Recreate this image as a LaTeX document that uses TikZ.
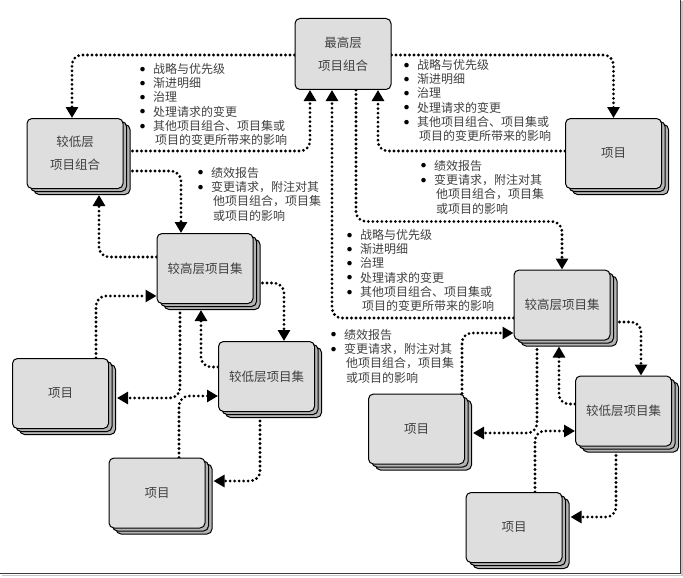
\documentclass[tikz,border=0pt]{standalone}
\usepackage{fontspec}
\setmainfont{Noto Sans CJK SC}
\usetikzlibrary{arrows.meta,calc,shadows,backgrounds}
\definecolor{boxGray}{HTML}{DEDEDE}
\definecolor{stackGray}{HTML}{B4B4B4}
\definecolor{textGray}{HTML}{404040}
\definecolor{frameGray}{HTML}{3C3C3C}
\newcommand{\itm}{\makebox[13pt][l]{\raisebox{2.3pt}{\fontsize{5}{0}\selectfont\textcolor{black}{●}}}}
\newcommand{\cnt}{\hspace*{15pt}}

\begin{document}
\begin{tikzpicture}[x=1pt,y=-1pt,
  card/.style={draw,line width=1pt,fill=boxGray,rounded corners=5pt,minimum width=96pt,minimum height=70pt,align=center,text=textGray,font=\fontsize{12.5}{23}\selectfont},
  stack/.style={card,double copy shadow={shadow xshift=3.5pt,shadow yshift=-3pt,fill=stackGray,draw=black,line width=1pt}},
  link/.style={line width=3.1pt,line cap=round,dash pattern=on 0pt off 4.5pt,rounded corners=10pt,-{Triangle[width=12pt,length=11pt]}},
  notes/.style={anchor=north west,inner sep=0pt,align=left,text=textGray,font=\fontsize{12}{14.3}\selectfont}]
\useasboundingbox (0,0) rectangle (683,578);

% boxes
\node[card,minimum height=71pt] (top) at (343,54) {最高层\\项目组合};
\node[stack] (lowport) at (75,153.5) {较低层\\项目组合};
\node[stack] (proj1) at (613.5,153.5) {项目};
\node[stack] (lhigh) at (205,268.5) {较高层项目集};
\node[stack] (llow) at (266.5,376.5) {较低层项目集};
\node[stack] (lproj1) at (60.5,393.5) {项目};
\node[stack] (lproj2) at (157,493) {项目};
\node[stack] (rhigh) at (562,305) {较高层项目集};
\node[stack] (rlow) at (623.5,411) {较低层项目集};
\node[stack] (rproj1) at (416.5,429) {项目};
\node[stack] (rproj2) at (514,527.5) {项目};

% notes
\node[notes] (down1) at (140,63) {\itm 战略与优先级\\\itm 渐进明细\\\itm 治理\\\itm 处理请求的变更\\\itm 其他项目组合、项目集或\\\cnt 项目的变更所带来的影响};
\node[notes] (down2) at (404,59) {\itm 战略与优先级\\\itm 渐进明细\\\itm 治理\\\itm 处理请求的变更\\\itm 其他项目组合、项目集或\\\cnt 项目的变更所带来的影响};
\node[notes] (up1) at (421,160) {\itm 绩效报告\\\itm 变更请求，附注对其\\\cnt 他项目组合，项目集\\\cnt 或项目的影响};
\node[notes] (up2) at (198,167) {\itm 绩效报告\\\itm 变更请求，附注对其\\\cnt 他项目组合，项目集\\\cnt 或项目的影响};
\node[notes] (down3) at (347,229) {\itm 战略与优先级\\\itm 渐进明细\\\itm 治理\\\itm 处理请求的变更\\\itm 其他项目组合、项目集或\\\cnt 项目的变更所带来的影响};
\node[notes] (up3) at (331,329) {\itm 绩效报告\\\itm 变更请求，附注对其\\\cnt 他项目组合，项目集\\\cnt 或项目的影响};

% links
\begin{scope}[on background layer]
\draw[link] ($(top.west)+(0,1)$) -| ($(lowport.north)+(-3,0)$);
\draw[link] ($(lowport.east)+(0,-2.5)$) -| ($(top.south)+(-33,0)$);
\draw[link] ($(top.east)+(0,1)$) -| (proj1.north);
\draw[link] ($(proj1.west)+(0,-2.5)$) -| ($(top.south)+(35,0)$);
\draw[link] ($(top.south)+(13,0)$) -- ++(0,131.5) -| (rhigh.north);
\draw[link] ($(rhigh.west)+(0,13)$) -| ($(top.south)+(-11,0)$);
\draw[link] ($(lowport.east)+(0,17.5)$) -| ($(lhigh.north)+(-24,0)$);
\draw[link] ($(lhigh.west)+(0,-11.5)$) -| ($(lowport.south)+(24,6)$);
\draw[link] ($(lhigh.east)+(0,14.5)$) -| ($(llow.north)+(17.5,0)$);
\draw[link] ($(llow.west)+(0,-9.5)$) -| ($(lhigh.south)+(-4,6)$);
\draw[link] ($(lproj1.north)+(35.5,0)$) |- ($(lhigh.west)+(0,27.5)$);
\draw[link] ($(lhigh.south)+(-25,0)$) |- ($(lproj1.east)+(8,4.5)$);
\draw[link] ($(lproj2.north)+(22,0)$) |- ($(llow.west)+(0,19.5)$);
\draw[link] ($(llow.south)+(-6.5,0)$) |- ($(lproj2.east)+(8,-12)$);
\draw[link] ($(rhigh.east)+(0,17)$) -| ($(rlow.north)+(17.5,0)$);
\draw[link] ($(rlow.west)+(0,-7)$) -| ($(rhigh.south)+(-3,6)$);
\draw[link] ($(rproj1.north)+(45.5,0)$) |- ($(rhigh.west)+(0,28)$);
\draw[link] ($(rhigh.south)+(-25,0)$) |- ($(rproj1.east)+(8,4)$);
\draw[link] ($(rproj2.north)+(21,0)$) |- ($(rlow.west)+(0,20)$);
\draw[link] ($(rlow.south)+(-7.5,0)$) |- ($(rproj2.east)+(8,-10.5)$);
\end{scope}

% frame
\draw[gray!45,line width=1.6pt] (1.5,575.6) -- (682.2,575.6) -- (682.2,1.5);
\draw[frameGray,line width=1.2pt] (0,573.8) -- (680.3,573.8) -- (680.3,0);
\end{tikzpicture}
\end{document}
